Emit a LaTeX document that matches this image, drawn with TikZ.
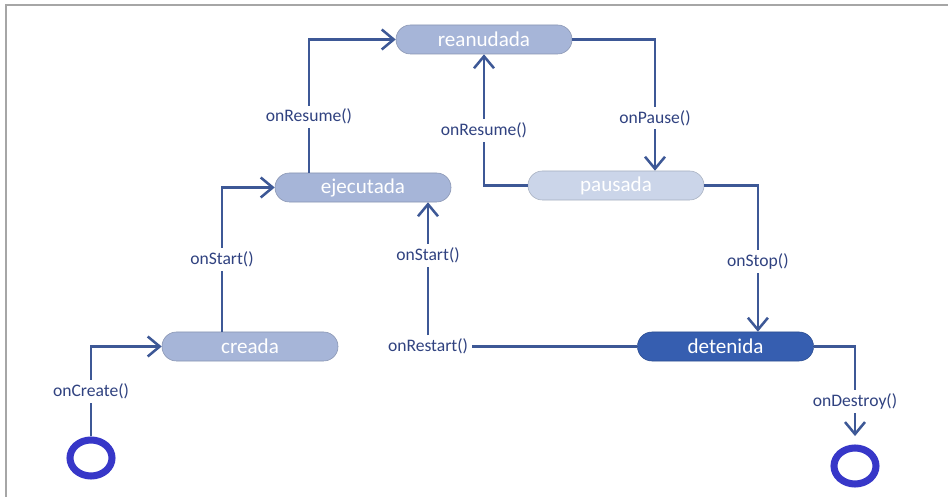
\documentclass[tikz,border=0pt]{standalone}
\usepackage{fontspec}
\setmainfont{Carlito}
\usetikzlibrary{arrows.meta,shapes.geometric}
\definecolor{edge}{RGB}{61,88,150}
\definecolor{calltext}{RGB}{48,66,128}
\definecolor{ringblue}{RGB}{55,55,200}
\definecolor{paleblue}{RGB}{166,181,216}
\definecolor{mistblue}{RGB}{203,213,233}
\definecolor{deepblue}{RGB}{54,94,176}

\begin{document}
\begin{tikzpicture}[x=0.025cm, y=-0.025cm,
    stage/.style={draw=#1!82!black, fill=#1, rounded corners=0.36cm, minimum width=4.4cm, minimum height=0.725cm, inner sep=0pt, text=white, font=\fontsize{15}{15}\selectfont},
    link/.style={draw=edge, line width=1.6pt},
    trans/.style={link, -{Straight Barb[length=3mm,width=5mm,line width=1.8pt]}},
    call/.style={fill=white, text=calltext, inner sep=2.5pt, font=\fontsize{12.5}{13}\selectfont},
    term/.style={draw=ringblue, line width=5pt, ellipse, minimum width=1.05cm, minimum height=0.9cm, inner sep=0pt}]
    \useasboundingbox (0,0) rectangle (948,497);
    \draw[gray!70, line width=1.5pt] (6,497) -- (6,5) -- (948,5);

    % estados
    \node[stage=paleblue] (reanudada) at (484,39.5) {reanudada};
    \node[stage=paleblue] (ejecutada) at (363,187.5) {ejecutada};
    \node[stage=mistblue] (pausada) at (616,185.5) {pausada};
    \node[stage=paleblue] (creada) at (250,346.5) {creada};
    \node[stage=deepblue] (detenida) at (725.5,346.5) {detenida};
    \node[term] (inicio) at (91,458) {};\node[term] (fin) at (855,466) {};
    \node[call] (reinicio) at (428,346.5) {onRestart()};

    % transiciones
    \draw[trans] (inicio) -- node[call]{onCreate()} (inicio |- creada) -- (creada);
    \draw[trans] ([xshift=-0.7cm]creada.north) |- node[call,pos=.25]{onStart()} (ejecutada);
    \draw[trans] ([xshift=-1.35cm]ejecutada.north) |- node[call,pos=.21]{onResume()} (reanudada);
    \draw[trans] (reanudada) -| node[call,pos=.8]{onPause()} ([xshift=0.975cm]pausada.north);
    \draw[trans] (pausada) -| node[call,pos=.71]{onResume()} (reanudada);
    \draw[trans] (pausada) -| node[call,pos=.76]{onStop()} ([xshift=0.81cm]detenida.north);
    \draw[link] (detenida) -- (reinicio);
    \draw[trans] (reinicio) -- node[call,pos=.6]{onStart()} (reinicio |- ejecutada.south);
    \draw[trans, shorten >=6pt] (detenida) -| node[call,pos=.78]{onDestroy()} (fin);
\end{tikzpicture}
\end{document}
